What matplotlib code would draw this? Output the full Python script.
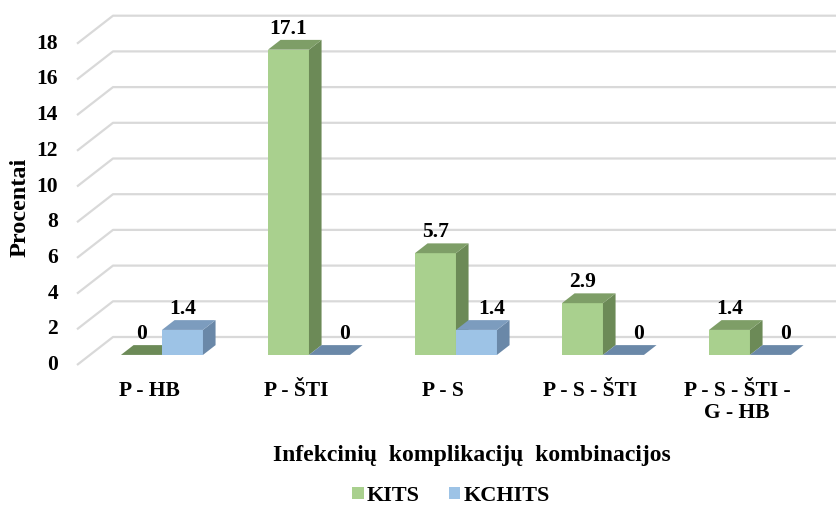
import numpy as np
import matplotlib
matplotlib.use("Agg")
import matplotlib.pyplot as plt
from matplotlib.patches import Polygon, Patch

# ── data ──────────────────────────────────────────────────────────
categories = ["P - HB", "P - ŠTI", "P - S", "P - S - ŠTI", "P - S - ŠTI -\nG - HB"]
kits = [0, 17.1, 5.7, 2.9, 1.4]
kchits = [1.4, 0, 1.4, 0, 0]
yticks = [0, 2, 4, 6, 8, 10, 12, 14, 16, 18]
series_names = ["KITS", "KCHITS"]

# face colours: front, top, side
GREEN = ("#A9D08E", "#7E9E67", "#6C8A57")
BLUE = ("#9DC3E6", "#7C9CBE", "#6A88A8")
GRID = "#D9D9D9"

plt.rcParams["font.family"] = ["Liberation Serif", "DejaVu Serif"]
plt.rcParams["font.weight"] = "bold"

# pseudo-3D geometry (category units on x, percent on y)
PX_X = 147.0           # pixels per category
PX_Y = 17.85           # pixels per percent
DX = 36 / PX_X         # full floor depth shift
DY = 28 / PX_Y
D0, D1 = 0.36, 0.71    # bar front / back depth
W = 41 / PX_X          # bar width
FLOOR_X0 = -72 / PX_X  # front-left corner of the floor
LBL_SHIFT = 15 / PX_X  # Excel nudges the second series' labels right


def proj(x, v, d):
    return (x + d * DX, v + d * DY)


fig = plt.figure(figsize=(8.37, 5.07), dpi=100)
ax = fig.add_axes([0, 0, 1, 1])
ax.set_xlim(-149 / PX_X, (837 - 149) / PX_X)
ax.set_ylim(-142 / PX_Y, 365 / PX_Y)
ax.axis("off")

# gridlines: diagonal on the side + horizontal on the back wall
for t in yticks:
    x_a, y_a = proj(FLOOR_X0, t, 0)
    x_b, y_b = proj(FLOOR_X0, t, 1)
    ax.plot([x_a, x_b, ax.get_xlim()[1]], [y_a, y_b, y_b],
            color=GRID, linewidth=1.6, zorder=1, solid_capstyle="butt")
    ax.text(x_a - 0.13, t, str(t), ha="right", va="center", fontsize=15.5)


def draw_bar(x0, v, colors, z, shift=0.0):
    x1 = x0 + W
    front, top, side = colors
    if v > 0:
        ax.add_patch(Polygon([proj(x0, 0, D0), proj(x1, 0, D0),
                              proj(x1, v, D0), proj(x0, v, D0)],
                             closed=True, facecolor=front, edgecolor="none", zorder=z))
        ax.add_patch(Polygon([proj(x1, 0, D0), proj(x1, 0, D1),
                              proj(x1, v, D1), proj(x1, v, D0)],
                             closed=True, facecolor=side, edgecolor="none", zorder=z))
        top_c = top
    else:
        top_c = side
    ax.add_patch(Polygon([proj(x0, v, D0), proj(x1, v, D0),
                          proj(x1, v, D1), proj(x0, v, D1)],
                         closed=True, facecolor=top_c, edgecolor="none", zorder=z))
    lx, _ = proj(x0 + W / 2 + shift, v, D0)
    _, ly = proj(x0, v, D1)
    ax.text(lx, ly + 0.05, f"{v:g}", ha="center", va="bottom", fontsize=15.5, zorder=10)


for i, (g, b) in enumerate(zip(kits, kchits)):
    draw_bar(i - W, g, GREEN, 3 + 2 * i)
    draw_bar(i, b, BLUE, 4 + 2 * i, shift=LBL_SHIFT if g > 0 else 0.0)
    ax.text(i, (365 - 381) / PX_Y, categories[i], ha="center", va="top",
            fontsize=15.5, linespacing=1.15)

fig.text(472 / 837, 1 - 455 / 507, "Infekcinių  komplikacijų  kombinacijos",
         ha="center", va="center", fontsize=17)
fig.text(20 / 837, 1 - 207 / 507, "Procentai", ha="center", va="center",
         rotation=90, fontsize=17.5)

handles = [Patch(facecolor=GREEN[0], label=series_names[0]),
           Patch(facecolor=BLUE[0], label=series_names[1])]
fig.legend(handles=handles, loc="center", bbox_to_anchor=(451 / 837, 1 - 496 / 507),
           ncol=2, frameon=False, fontsize=16, handlelength=0.5, handleheight=0.5,
           handletextpad=0.15, columnspacing=1.3)

fig.savefig("out.png", dpi=100)
